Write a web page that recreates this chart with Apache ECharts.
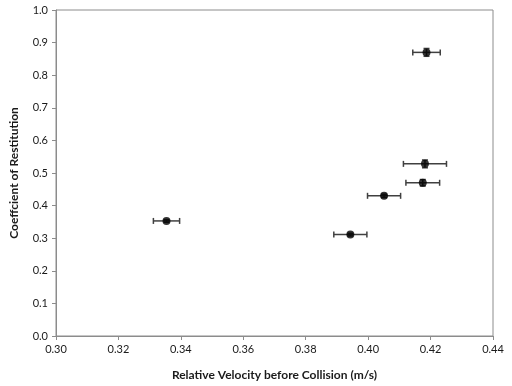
<!DOCTYPE html>
<html><head><meta charset="utf-8">
<script src="https://cdn.jsdelivr.net/npm/echarts@6/dist/echarts.min.js"></script>
<style>html,body{margin:0;padding:0;background:#fff}#c{width:512px;height:386px}</style>
</head><body><div id="c"></div>
<script>
var velocity = [0.3354, 0.3943, 0.4051, 0.4175, 0.4182, 0.4187];
var restitution = [0.353, 0.311, 0.430, 0.470, 0.528, 0.870];
var velocityErr = [0.0042, 0.0053, 0.0053, 0.0054, 0.0069, 0.0044];
var restitutionErr = [0.004, 0.004, 0.005, 0.010, 0.012, 0.012];
var xTicks = [0.30, 0.32, 0.34, 0.36, 0.38, 0.40, 0.42, 0.44];
var yTicks = [0.0, 0.1, 0.2, 0.3, 0.4, 0.5, 0.6, 0.7, 0.8, 0.9, 1.0];

var pts = velocity.map(function(v, i){ return [v, restitution[i]]; });
var errData = velocity.map(function(v, i){ return [v, restitution[i], velocityErr[i], restitutionErr[i]]; });
var font = 'Lato';
var chart = echarts.init(document.getElementById('c'));
chart.setOption({
  animation: false,
  grid: {left: 51, top: 10, right: 19, bottom: 50, show: true, borderColor: '#8c8c8c', borderWidth: 1},
  xAxis: {
    type: 'value', min: xTicks[0], max: xTicks[xTicks.length-1], interval: 0.02,
    name: 'Relative Velocity before Collision (m/s)', nameLocation: 'middle', nameGap: 33,
    nameTextStyle: {fontFamily: font, fontWeight: 'bold', fontSize: 12, color: '#1a1a1a'},
    axisLine: {lineStyle: {color: '#8c8c8c', width: 1}},
    axisTick: {show: true, inside: false, length: 4, lineStyle: {color: '#8c8c8c'}},
    axisLabel: {fontFamily: font, fontSize: 11, color: '#1a1a1a', margin: 8, formatter: function(v){ return v.toFixed(2); }},
    splitLine: {show: false}
  },
  yAxis: {
    type: 'value', min: yTicks[0], max: yTicks[yTicks.length-1], interval: 0.1,
    name: 'Coeffcient of Restitution', nameLocation: 'middle', nameGap: 36,
    nameTextStyle: {fontFamily: font, fontWeight: 'bold', fontSize: 12, color: '#1a1a1a'},
    axisLine: {show: true, lineStyle: {color: '#8c8c8c', width: 1}},
    axisTick: {show: true, inside: false, length: 4, lineStyle: {color: '#8c8c8c'}},
    axisLabel: {fontFamily: font, fontSize: 11, color: '#1a1a1a', margin: 8, formatter: function(v){ return v.toFixed(1); }},
    splitLine: {show: false}
  },
  series: [
    {
      type: 'custom',
      data: errData,
      renderItem: function(params, api){
        var x = api.value(0), y = api.value(1), ex = api.value(2), ey = api.value(3);
        var l = api.coord([x - ex, y]), r = api.coord([x + ex, y]);
        var t = api.coord([x, y + ey]), b = api.coord([x, y - ey]);
        var st = {stroke: '#404040', lineWidth: 1.5};
        var cap = 3;
        return {type: 'group', children: [
          {type: 'line', shape: {x1: l[0], y1: l[1], x2: r[0], y2: r[1]}, style: st},
          {type: 'line', shape: {x1: l[0], y1: l[1]-cap, x2: l[0], y2: l[1]+cap}, style: st},
          {type: 'line', shape: {x1: r[0], y1: r[1]-cap, x2: r[0], y2: r[1]+cap}, style: st},
          {type: 'line', shape: {x1: t[0], y1: t[1], x2: b[0], y2: b[1]}, style: st},
          {type: 'line', shape: {x1: t[0]-cap, y1: t[1], x2: t[0]+cap, y2: t[1]}, style: st},
          {type: 'line', shape: {x1: b[0]-cap, y1: b[1], x2: b[0]+cap, y2: b[1]}, style: st}
        ]};
      },
      z: 1
    },
    {
      type: 'scatter', data: pts, symbol: 'circle', symbolSize: 8,
      itemStyle: {color: '#000'}, z: 2
    }
  ]
});
</script></body></html>
